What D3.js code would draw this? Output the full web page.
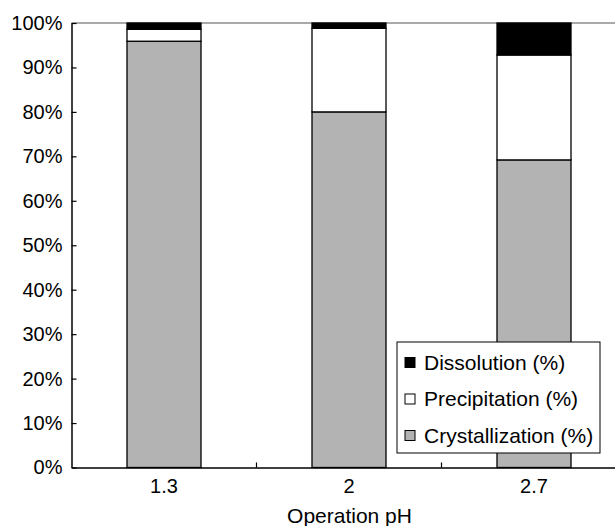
<!DOCTYPE html>
<html><head><meta charset="utf-8">
<script src="https://cdn.jsdelivr.net/npm/d3@7/dist/d3.min.js"></script>
<style>body{margin:0;background:#fff}svg{display:block}text{font-family:"Liberation Sans",Arial,Helvetica,sans-serif;fill:#000}</style>
</head><body>
<script>
const categories = ["1.3", "2", "2.7"];
const crystallization = [95.9, 80.0, 69.2];
const precipitation = [2.7, 18.8, 23.6];
const dissolution = [1.4, 1.2, 7.2];
const seriesNames = ["Crystallization (%)", "Precipitation (%)", "Dissolution (%)"];
const seriesColors = ["#b3b3b3", "#ffffff", "#000000"];
const yTicks = [0,10,20,30,40,50,60,70,80,90,100];
const xTitle = "Operation pH";

const W = 615, H = 526;
const m = {l:71.5, t:23, r:-11.5, b:58.5};
const svg = d3.select("body").append("svg").attr("width", W).attr("height", H);
const x = d3.scaleBand().domain(categories).range([m.l, W - m.r]).paddingInner(0.6).paddingOuter(0.3);
const y = d3.scaleLinear().domain([0,100]).range([H - m.b, m.t]);

const rows = categories.map((c,i)=>({cat:c, "Crystallization (%)":crystallization[i], "Precipitation (%)":precipitation[i], "Dissolution (%)":dissolution[i]}));
const stack = d3.stack().keys(seriesNames)(rows);

// top frame line
svg.append("line").attr("x1", m.l).attr("x2", W - m.r).attr("y1", y(100)).attr("y2", y(100))
  .attr("stroke", "#555").attr("stroke-width", 1);

stack.forEach((s, si) => {
  svg.append("g").selectAll("rect").data(s).join("rect")
    .attr("x", d => x(d.data.cat)).attr("width", x.bandwidth())
    .attr("y", d => y(d[1])).attr("height", d => y(d[0]) - y(d[1]))
    .attr("fill", seriesColors[si]).attr("stroke", "#000").attr("stroke-width", 1.3);
});

// y axis
const ya = svg.append("g").attr("transform", `translate(${m.l},0)`)
  .call(d3.axisLeft(y).tickValues(yTicks).tickSizeInner(-5).tickSizeOuter(0).tickPadding(9).tickFormat(d => d + "%"));
ya.select(".domain").attr("stroke-width", 1.5);
ya.selectAll(".tick line").attr("stroke-width", 1.2);
ya.selectAll("text").attr("font-size", 20).attr("font-family", '"Liberation Sans",Arial,sans-serif');

// x axis
const xa = svg.append("g").attr("transform", `translate(0,${y(0)})`)
  .call(d3.axisBottom(x).tickSize(0).tickPadding(11));
xa.select(".domain").attr("stroke-width", 1.5);
xa.selectAll("text").attr("font-size", 20).attr("font-family", '"Liberation Sans",Arial,sans-serif');
// boundary ticks (inward)
const bounds = categories.slice(0, -1).map(c => x(c) + x.bandwidth() + x.step() * x.paddingInner() / 2);
svg.append("g").selectAll("line").data(bounds).join("line")
  .attr("x1", d => d).attr("x2", d => d).attr("y1", y(0)).attr("y2", y(0) - 5)
  .attr("stroke", "#000").attr("stroke-width", 1.2);

svg.append("text").attr("x", 349.5).attr("y", 522.5).attr("text-anchor", "middle")
  .attr("font-size", 21).text(xTitle);

// legend
const lg = svg.append("g").attr("transform", "translate(397,342)");
lg.append("rect").attr("width", 203).attr("height", 111).attr("fill", "#fff").attr("stroke", "#000").attr("stroke-width", 1);
const legendOrder = [2,1,0];
legendOrder.forEach((si, k) => {
  const cy = 20.5 + k * 36.5;
  lg.append("rect").attr("x", 8).attr("y", cy - 5).attr("width", 10).attr("height", 10)
    .attr("fill", seriesColors[si]).attr("stroke", "#000").attr("stroke-width", 1);
  lg.append("text").attr("x", 27).attr("y", cy).attr("dy", "0.35em").attr("font-size", 21).text(seriesNames[si]);
});
</script>
</body></html>
